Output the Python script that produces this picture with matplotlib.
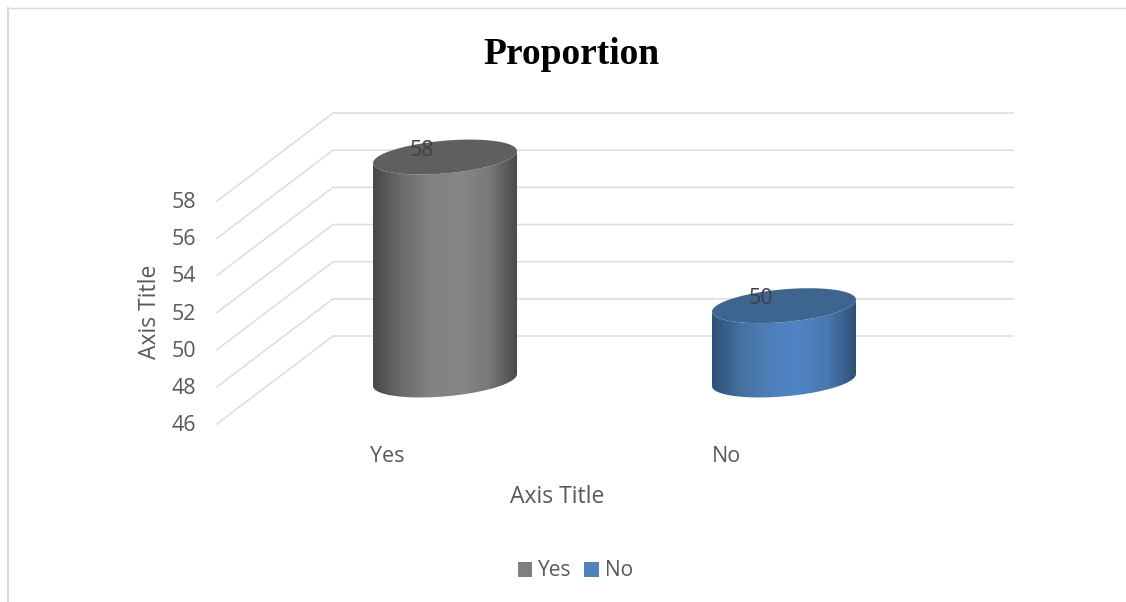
import numpy as np
import matplotlib
matplotlib.use('Agg')
import matplotlib.pyplot as plt
from matplotlib.patches import Patch, Polygon
from matplotlib.colors import LinearSegmentedColormap

categories = ['Yes', 'No']
values = [58, 50]
y_ticks = [46, 48, 50, 52, 54, 56, 58]
colors = ['#7f7f7f', '#4f81bd']
top_colors = ['#5f5f5f', '#3e6490']
side_stops = [['#484848', '#6c6c6c', '#828282', '#868686', '#7a7a7a', '#4a4a4a'],
              ['#2e4f78', '#45719f', '#4f7fbb', '#5184c6', '#4a78ae', '#2f5078']]

W, H = 1126, 602
BASE = 46
Y0 = 380            # pixel row of the base value, mid depth
PX_UNIT = 18.58     # pixels per value unit
X0, PX_CAT = 445, 339
DEPTH_Y = 44
RX, RY, SKEW = 72, 16.4, 6
FONT = 'Open Sans'
GREY = '#595959'


def to_x(px):
    return (px - X0) / PX_CAT


def to_v(py):
    return BASE + (Y0 - py) / PX_UNIT


fig = plt.figure(figsize=(W / 100, H / 100), dpi=100)
ax = fig.add_axes([0, 0, 1, 1])
ax.set_xlim(to_x(0), to_x(W))
ax.set_ylim(to_v(H), to_v(0))
ax.axis('off')
dx = 1 / PX_CAT
dv = 1 / PX_UNIT

# chart frame, only left and top are visible
ax.plot([to_x(8), to_x(8)], [to_v(H), to_v(8)], color='#d9d9d9', lw=1.5, zorder=1)
ax.plot([to_x(8), to_x(W)], [to_v(8.5), to_v(8.5)], color='#d9d9d9', lw=1.0, zorder=1)

# walls
for t in y_ticks:
    ax.plot([to_x(217), to_x(333), to_x(1013)],
            [t - DEPTH_Y * dv, t + DEPTH_Y * dv, t + DEPTH_Y * dv],
            color='#dcdcdc', lw=1.1, zorder=1, solid_joinstyle='miter')
    ax.text(to_x(196), t - (DEPTH_Y + 1.5) * dv, str(t), ha='right', va='center',
            fontsize=15.5, color=GREY, family=FONT)


def ellipse(cx, v, start=0.0, stop=2 * np.pi):
    t = np.linspace(start, stop, 80)
    return cx + RX * dx * np.cos(t), v + (RY * np.sin(t) + SKEW * np.cos(t)) * dv


for i, (cat, val) in enumerate(zip(categories, values)):
    # lower arc of the base, then the same arc lifted to the top of the bar
    bx, by = ellipse(i, BASE, np.pi, 2 * np.pi)
    side = np.column_stack([np.r_[bx, bx[::-1]], np.r_[by, by[::-1] - BASE + val]])
    cmap = LinearSegmentedColormap.from_list('side', side_stops[i])
    im = ax.imshow(np.linspace(0, 1, 256)[None, :], cmap=cmap, aspect='auto', zorder=3,
                   extent=[i - RX * dx, i + RX * dx, BASE - 40 * dv, val + 40 * dv])
    clip = Polygon(side, closed=True, transform=ax.transData, fc='none', ec='none')
    ax.add_patch(clip)
    im.set_clip_path(clip)
    ex, ey = ellipse(i, val)
    ax.fill(ex, ey, color=top_colors[i], lw=0, zorder=4)
    ax.text(i - 23 * dx, val + 7 * dv, str(val), ha='center', va='center',
            fontsize=15.5, color='#404040', family=FONT, zorder=5)
    ax.text(i - 58 * dx, BASE - 76.5 * dv, cat, ha='center', va='center',
            fontsize=15.5, color=GREY, family=FONT)

ax.set_xlim(to_x(0), to_x(W))
ax.set_ylim(to_v(H), to_v(0))

ax.text(to_x(571), to_v(54), 'Proportion', ha='center', va='center', fontsize=27,
        fontweight='bold', family='Liberation Serif', color='black')
ax.text(to_x(557), to_v(497), 'Axis Title', ha='center', va='center',
        fontsize=16.5, color=GREY, family=FONT)
ax.text(to_x(150), to_v(312), 'Axis Title', ha='center', va='center', rotation=90,
        fontsize=16.5, color=GREY, family=FONT)

handles = [Patch(facecolor=c, label=l) for c, l in zip(colors, categories)]
ax.legend(handles=handles, loc='center', bbox_to_anchor=(575.5 / W, 1 - 571 / H), ncol=2, frameon=False,
          prop={'family': FONT, 'size': 15}, labelcolor=GREY,
          handlelength=0.7, handleheight=0.7, handletextpad=0.3, columnspacing=0.6)

fig.savefig('out.png', dpi=100)
